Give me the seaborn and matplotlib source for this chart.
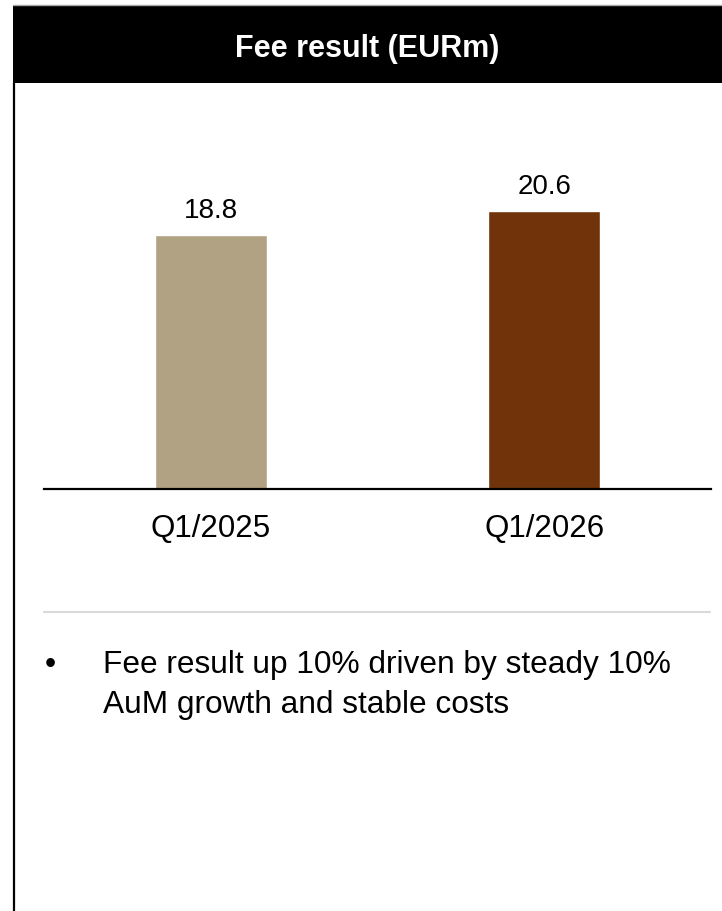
import matplotlib
matplotlib.use("Agg")
import matplotlib.pyplot as plt
import seaborn as sns
import pandas as pd
from matplotlib.patches import Rectangle
from matplotlib.lines import Line2D

# ---- data ----
categories = ["Q1/2025", "Q1/2026"]
values = [18.8, 20.6]
value_labels = ["18.8", "20.6"]
bar_colors = ["#B2A284", "#71340A"]
title = "Fee result (EURm)"
bullet_lines = ["Fee result up 10% driven by steady 10%", "AuM growth and stable costs"]

W, H = 722, 912
sns.set_style("white")
plt.rcParams["font.family"] = ["Liberation Sans", "DejaVu Sans"]

fig = plt.figure(figsize=(W / 100, H / 100), dpi=100)
fig.patch.set_facecolor("white")


def fx(x):
    return x / W


def fy(y):
    return 1 - y / H


# header
fig.add_artist(Rectangle((fx(13), fy(84)), fx(722) - fx(13), fy(6) - fy(84),
                         transform=fig.transFigure, facecolor="black", edgecolor="none"))
fig.add_artist(Line2D([fx(13), fx(722)], [fy(5.5), fy(5.5)], transform=fig.transFigure,
                      color="#A6A6A6", lw=1.0))
fig.text(fx(367), fy(57), title, color="white", fontsize=22, fontweight="bold",
         ha="center", va="baseline")
# left border
fig.add_artist(Line2D([fx(14), fx(14)], [fy(84), fy(912)], transform=fig.transFigure,
                      color="black", lw=1.6))

# bar chart
ax = fig.add_axes([fx(44), fy(490), fx(711) - fx(44), fy(120) - fy(490)])
df = pd.DataFrame({"cat": categories, "val": values})
sns.barplot(data=df, x="cat", y="val", hue="cat", palette=bar_colors, width=0.336,
            legend=False, ax=ax, saturation=1)
ax.set_xlim(-0.5, 1.5)
ax.set_ylim(0, 27.4)
for c, lab in zip(ax.containers, value_labels):
    ax.bar_label(c, labels=[lab], fontsize=20, padding=8.5, color="black")
ax.set_xlabel("")
ax.set_ylabel("")
ax.set_yticks([])
ax.tick_params(axis="x", length=0, pad=17, labelsize=22.5, colors="black")
for s in ["top", "right", "left"]:
    ax.spines[s].set_visible(False)
ax.spines["bottom"].set_color("black")
ax.spines["bottom"].set_linewidth(1.6)
ax.patch.set_alpha(0)

# separator
fig.add_artist(Line2D([fx(44), fx(710)], [fy(613), fy(613)], transform=fig.transFigure,
                      color="#D9D9D9", lw=1.5))

# bullet text
fig.text(fx(50), fy(673), "•", fontsize=22.8, ha="center", va="baseline", color="black")
fig.text(fx(103), fy(673), bullet_lines[0], fontsize=22.8, ha="left", va="baseline", color="black")
fig.text(fx(103), fy(713), bullet_lines[1], fontsize=22.8, ha="left", va="baseline", color="black")

fig.savefig("out.png", dpi=100, facecolor="white")
